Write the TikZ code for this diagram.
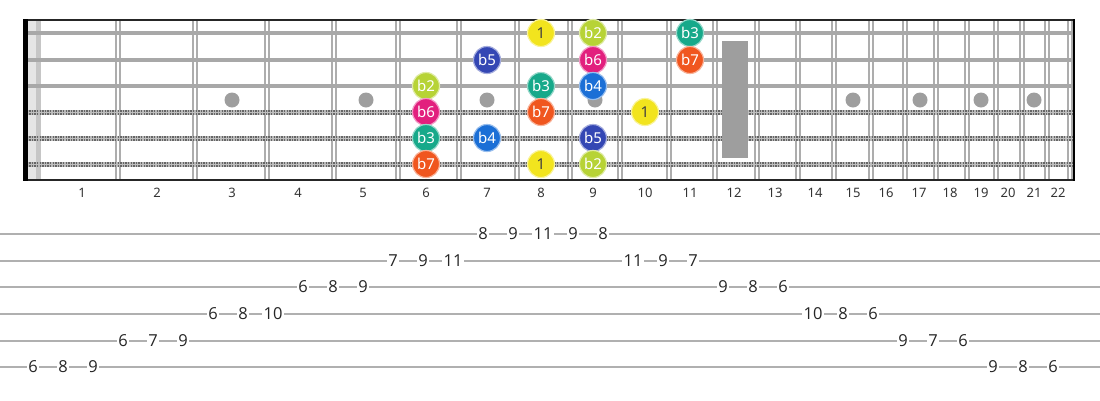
\documentclass[tikz,border=0pt]{standalone}
\usepackage{fontspec}
\setmainfont{Noto Sans}
\newfontfamily\tabfont{Open Sans}
\definecolor{cOne}{HTML}{F2E41E}
\definecolor{cbTwo}{HTML}{B7D336}
\definecolor{cbThree}{HTML}{17A98A}
\definecolor{cbFour}{HTML}{1B6FD6}
\definecolor{cbFive}{HTML}{3447B4}
\definecolor{cbSix}{HTML}{E2207E}
\definecolor{cbSeven}{HTML}{F0561F}
\definecolor{fretgray}{HTML}{ADADAD}
\definecolor{strgray}{HTML}{A8A8A8}
\definecolor{inlay}{HTML}{9E9E9E}
\begin{document}
\begin{tikzpicture}[x=1pt,y=-1pt,
  note/.style={circle,minimum size=27pt,inner sep=0pt,line width=1.2pt,
    font=\fontsize{15}{15}\selectfont,text=white},
  nOne/.style={note,fill=cOne,draw=cOne!45!white,text=black!75},
  nbTwo/.style={note,fill=cbTwo,draw=cbTwo!45!white},
  nbThree/.style={note,fill=cbThree,draw=cbThree!45!white},
  nbFour/.style={note,fill=cbFour,draw=cbFour!45!white},
  nbFive/.style={note,fill=cbFive,draw=cbFive!45!white},
  nbSix/.style={note,fill=cbSix,draw=cbSix!45!white},
  nbSeven/.style={note,fill=cbSeven,draw=cbSeven!45!white},
  fretnum/.style={font=\fontsize{13}{13}\selectfont,text=black!80,inner sep=0pt},
  tabnum/.style={font=\tabfont\fontsize{16.5}{16.5}\selectfont,text=black!85,fill=white,inner sep=1.5pt},
  tabline/.style={draw=gray!62,line width=2.4pt},
  fretline/.style={draw=fretgray,line width=1.8pt},
  plainstring/.style={draw=strgray,line width=3.6pt},
]
\useasboundingbox (0,0) rectangle (1100,400);
% nut band
\fill[gray!20] (28,20) rectangle (36,180);
\fill[gray!45] (36,20) rectangle (41,180);
% frets
\foreach \f in {118,195,267,334,398,459,517,570,620,669,715,757,798,834,871,905,936,967,996,1022,1047,1070}{
  \draw[fretline] (\f-2,20) -- (\f-2,180);
  \draw[fretline] (\f+2,20) -- (\f+2,180);
}
% strings
\foreach \y in {33,60,86}{
  \draw[plainstring] (24,\y) -- (1073,\y);
}
\foreach \y in {112,138,164}{
  \draw[draw=gray!55,line width=5pt] (24,\y) -- (1073,\y);
  \draw[draw=black!60,line width=5pt,dash pattern=on 1.3pt off 1.3pt] (24,\y) -- (1073,\y);
  \draw[draw=gray!50,line width=0.8pt] (24,\y) -- (1073,\y);
}
% inlays
\foreach \x in {232,366,487,595,853,920,981,1034}{
  \fill[inlay] (\x,100) circle (7.5);
}
\fill[inlay] (722,41) rectangle (748,158);
% borders
\draw[black!85,line width=2.2pt] (24,20) -- (1074,20);
\draw[black!85,line width=2.2pt] (24,180) -- (1074,180);
\draw[black,line width=2.6pt] (1074,19) -- (1074,181);
\fill[black] (23,19) rectangle (28,181);
% fret numbers
\foreach \n/\x in {1/82,2/157,3/232,4/298,5/363,6/426,7/487,8/541,9/593,10/645,11/690,12/734,13/775,14/815,15/853,16/886,17/919,18/950,19/981,20/1008,21/1034,22/1058}{
  \node[fretnum] (fn\n) at (\x,193) {\n};
}
% notes
\node[nOne]    (s1f8)  at (541,33)  {1};
\node[nbTwo]   (s1f9)  at (593,33)  {b2};
\node[nbThree] (s1f11) at (690,33)  {b3};
\node[nbFive]  (s2f7)  at (487,60)  {b5};
\node[nbSix]   (s2f9)  at (593,60)  {b6};
\node[nbSeven] (s2f11) at (690,60)  {b7};
\node[nbTwo]   (s3f6)  at (426,86)  {b2};
\node[nbThree] (s3f8)  at (541,86)  {b3};
\node[nbFour]  (s3f9)  at (593,86)  {b4};
\node[nbSix]   (s4f6)  at (426,112) {b6};
\node[nbSeven] (s4f8)  at (541,112) {b7};
\node[nOne]    (s4f10) at (645,112) {1};
\node[nbThree] (s5f6)  at (426,138) {b3};
\node[nbFour]  (s5f7)  at (487,138) {b4};
\node[nbFive]  (s5f9)  at (593,138) {b5};
\node[nbSeven] (s6f6)  at (426,164) {b7};
\node[nOne]    (s6f8)  at (541,164) {1};
\node[nbTwo]   (s6f9)  at (593,164) {b2};
% tab lines
\foreach \y in {234,261,287,314,341,367}{
  \draw[tabline] (0,\y) -- (1100,\y);
}
% tab numbers: k -> x = 33 + 30k
\foreach \k/\y/\t in {0/367/6,1/367/8,2/367/9,
  3/341/6,4/341/7,5/341/9,
  6/314/6,7/314/8,8/314/10,
  9/287/6,10/287/8,11/287/9,
  12/261/7,13/261/9,14/261/11,
  15/234/8,16/234/9,17/234/11,18/234/9,19/234/8,
  20/261/11,21/261/9,22/261/7,
  23/287/9,24/287/8,25/287/6,
  26/314/10,27/314/8,28/314/6,
  29/341/9,30/341/7,31/341/6,
  32/367/9,33/367/8,34/367/6}{
  \node[tabnum] (t\k) at (33+30*\k,\y) {\t};
}
\end{tikzpicture}
\end{document}
